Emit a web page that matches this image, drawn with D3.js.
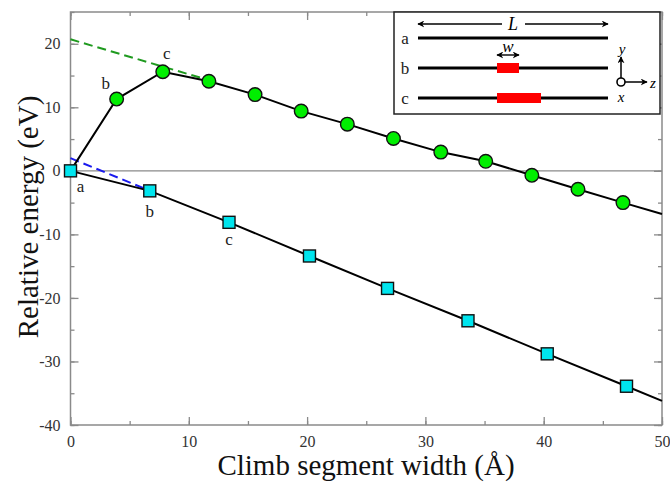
<!DOCTYPE html>
<html>
<head>
<meta charset="utf-8">
<script src="https://cdn.jsdelivr.net/npm/d3@7"></script>
<style>
  html, body { margin: 0; padding: 0; background: #fff; }
  svg { display: block; font-family: "Liberation Serif", "DejaVu Serif", serif; }
</style>
</head>
<body>
<svg id="chart" width="670" height="482"></svg>
<script>
// climb segment width (A) and relative energy (eV)
var circleX = [0, 3.9, 7.8, 11.7, 15.6, 19.5, 23.4, 27.3, 31.3, 35.1, 39.0, 42.9, 46.7];
var circleY = [0, 11.3, 15.6, 14.1, 12.0, 9.4, 7.35, 5.1, 2.95, 1.5, -0.7, -2.9, -5.0];
var squareX = [0, 6.7, 13.4, 20.2, 26.8, 33.6, 40.3, 47.0];
var squareY = [0, -3.15, -8.1, -13.4, -18.5, -23.6, -28.8, -33.9];

// linear fits: [value at x=0, value at x=50]
var circleFit = [20.7, -6.8];
var squareFit = [2.0, -36.2];

var circleLabels = [["b", 1], ["c", 2]];
var squareLabels = [["a", 0], ["b", 1], ["c", 2]];

var xTicks = [0, 10, 20, 30, 40, 50];
var yTicks = [-40, -30, -20, -10, 0, 10, 20];

var insetRows = ["a", "b", "c"];
var insetSeg = [0, 1, 2]; // climb segment length in units of w

(function () {
  var pL = 70.5, pR = 662, pT = 12, pB = 425;

  var svg = d3.select("#chart");
  var x = d3.scaleLinear().domain([0, 50]).range([pL, pR]);
  var y = d3.scaleLinear().domain([-40, 25]).range([pB, pT]);

  var frameColor = "#8a8a8a";
  var plain = function (d) { return String(d); }; // keep ascii hyphen minus

  // zero line
  svg.append("line")
    .attr("x1", x(0)).attr("x2", x(50))
    .attr("y1", y(0)).attr("y2", y(0))
    .attr("stroke", frameColor).attr("stroke-width", 1.3);

  // axes with inward ticks on all four sides
  function styleAxis(g) {
    g.select(".domain").remove();
    g.selectAll(".tick line").attr("stroke", frameColor).attr("stroke-width", 1.3);
    g.selectAll("text").attr("fill", "#333").style("font-size", "16px")
      .style("font-family", "'Liberation Serif', serif");
  }
  var xMinor = d3.range(0, 51, 5);
  var yMinor = d3.range(-40, 26, 5);

  svg.append("g").attr("transform", "translate(0," + pB + ")")
    .call(d3.axisBottom(x).tickValues(xMinor).tickSize(-4).tickFormat(""))
    .call(styleAxis);
  svg.append("g").attr("transform", "translate(0," + pB + ")")
    .call(d3.axisBottom(x).tickValues(xTicks).tickSize(-8).tickPadding(11).tickFormat(plain))
    .call(styleAxis);
  svg.append("g").attr("transform", "translate(0," + pT + ")")
    .call(d3.axisTop(x).tickValues(xMinor).tickSize(-4).tickFormat(""))
    .call(styleAxis);
  svg.append("g").attr("transform", "translate(0," + pT + ")")
    .call(d3.axisTop(x).tickValues(xTicks).tickSize(-8).tickFormat(""))
    .call(styleAxis);

  svg.append("g").attr("transform", "translate(" + pL + ",0)")
    .call(d3.axisLeft(y).tickValues(yMinor).tickSize(-4).tickFormat(""))
    .call(styleAxis);
  svg.append("g").attr("transform", "translate(" + pL + ",0)")
    .call(d3.axisLeft(y).tickValues(yTicks).tickSize(-8).tickPadding(10).tickFormat(plain))
    .call(styleAxis);
  svg.append("g").attr("transform", "translate(" + pR + ",0)")
    .call(d3.axisRight(y).tickValues(yMinor).tickSize(-4).tickFormat(""))
    .call(styleAxis);
  svg.append("g").attr("transform", "translate(" + pR + ",0)")
    .call(d3.axisRight(y).tickValues(yTicks).tickSize(-8).tickFormat(""))
    .call(styleAxis);

  // frame
  svg.append("rect")
    .attr("x", pL).attr("y", pT)
    .attr("width", pR - pL).attr("height", pB - pT)
    .attr("fill", "none").attr("stroke", frameColor).attr("stroke-width", 1.5);

  // axis titles
  svg.append("text")
    .attr("x", 366).attr("y", 475)
    .attr("text-anchor", "middle")
    .style("font-size", "29px").attr("fill", "#111")
    .text("Climb segment width (\u00c5)");
  svg.append("text")
    .attr("transform", "translate(38," + 217 + ") rotate(-90)")
    .attr("text-anchor", "middle")
    .style("font-size", "29px").attr("fill", "#111")
    .text("Relative energy (eV)");

  var line = d3.line().x(function (d) { return x(d[0]); }).y(function (d) { return y(d[1]); });

  function fitAt(fit, xv) { return fit[0] + (fit[1] - fit[0]) * xv / 50; }

  var circles = circleX.map(function (v, i) { return [v, circleY[i]]; });
  var squares = squareX.map(function (v, i) { return [v, squareY[i]]; });

  // dashed fit extrapolations back to x = 0
  var cEnd = circleX[3], sEnd = squareX[1];
  svg.append("path")
    .attr("d", line([[0, fitAt(circleFit, 0)], [cEnd, fitAt(circleFit, cEnd)]]))
    .attr("fill", "none").attr("stroke", "#1f9a1f").attr("stroke-width", 2)
    .attr("stroke-dasharray", "9,5");
  svg.append("path")
    .attr("d", line([[0, fitAt(squareFit, 0)], [sEnd, fitAt(squareFit, sEnd)]]))
    .attr("fill", "none").attr("stroke", "#1a1aee").attr("stroke-width", 2)
    .attr("stroke-dasharray", "9,5");

  // data lines, continued along the fit to the right edge
  svg.append("path")
    .attr("d", line(circles.concat([[50, fitAt(circleFit, 50)]])))
    .attr("fill", "none").attr("stroke", "#000").attr("stroke-width", 2);
  svg.append("path")
    .attr("d", line(squares.concat([[50, fitAt(squareFit, 50)]])))
    .attr("fill", "none").attr("stroke", "#000").attr("stroke-width", 2);

  // markers
  svg.append("g").selectAll("circle")
    .data(circles.slice(1))
    .enter().append("circle")
    .attr("cx", function (d) { return x(d[0]); })
    .attr("cy", function (d) { return y(d[1]); })
    .attr("r", 6.8)
    .attr("fill", "#00ee00").attr("stroke", "#111").attr("stroke-width", 1.4);

  var sq = 12;
  svg.append("g").selectAll("rect")
    .data(squares)
    .enter().append("rect")
    .attr("x", function (d) { return x(d[0]) - sq / 2; })
    .attr("y", function (d) { return y(d[1]) - sq / 2; })
    .attr("width", sq).attr("height", sq)
    .attr("fill", "#00e5ee").attr("stroke", "#111").attr("stroke-width", 1.4);

  // point letters
  var letterOffC = [[-11, -16], [4, -18]];
  circleLabels.forEach(function (l, i) {
    var p = circles[l[1]];
    svg.append("text")
      .attr("x", x(p[0]) + letterOffC[i][0]).attr("y", y(p[1]) + letterOffC[i][1])
      .attr("text-anchor", "middle").attr("dominant-baseline", "central")
      .style("font-size", "17px").attr("fill", "#222").text(l[0]);
  });
  var letterOffS = [[10, 16], [0, 21], [0, 17]];
  squareLabels.forEach(function (l, i) {
    var p = squares[l[1]];
    svg.append("text")
      .attr("x", x(p[0]) + letterOffS[i][0]).attr("y", y(p[1]) + letterOffS[i][1])
      .attr("text-anchor", "middle").attr("dominant-baseline", "central")
      .style("font-size", "17px").attr("fill", "#222").text(l[0]);
  });

  // inset sketch: dislocation lines a, b, c with climb segments of width w
  var inset = svg.append("g");
  inset.append("rect")
    .attr("x", 394).attr("y", 12).attr("width", 266).attr("height", 102)
    .attr("fill", "#fff").attr("stroke", "#222").attr("stroke-width", 1.5);

  var defs = svg.append("defs");
  defs.append("marker").attr("id", "ah")
    .attr("viewBox", "0 0 10 10").attr("refX", 9).attr("refY", 5)
    .attr("markerWidth", 7).attr("markerHeight", 7).attr("orient", "auto-start-reverse")
    .attr("markerUnits", "userSpaceOnUse")
    .append("path").attr("d", "M0,0 L10,5 L0,10 L3,5 Z").attr("fill", "#000");

  var rowY = d3.scalePoint().domain(insetRows).range([38, 98]);
  var lx0 = 418, lx1 = 608, segX = 497, segW = 22;

  inset.append("line")
    .attr("x1", lx0).attr("x2", 502).attr("y1", 24).attr("y2", 24)
    .attr("stroke", "#000").attr("stroke-width", 1.5).attr("marker-start", "url(#ah)");
  inset.append("line")
    .attr("x1", 525).attr("x2", lx1).attr("y1", 24).attr("y2", 24)
    .attr("stroke", "#000").attr("stroke-width", 1.5).attr("marker-end", "url(#ah)");
  inset.append("text").attr("x", 513).attr("y", 24)
    .attr("text-anchor", "middle").attr("dominant-baseline", "central")
    .style("font-size", "18px").style("font-style", "italic").text("L");

  insetRows.forEach(function (r, i) {
    var yy = rowY(r);
    inset.append("text").attr("x", 405).attr("y", yy)
      .attr("text-anchor", "middle").attr("dominant-baseline", "central")
      .style("font-size", "17px").attr("fill", "#222").text(r);
    inset.append("line").attr("x1", lx0).attr("x2", lx1).attr("y1", yy).attr("y2", yy)
      .attr("stroke", "#000").attr("stroke-width", 3);
    if (insetSeg[i] > 0) {
      inset.append("rect").attr("x", segX).attr("y", yy - 5)
        .attr("width", segW * insetSeg[i]).attr("height", 10).attr("fill", "#f00");
    }
  });
  inset.append("line")
    .attr("x1", segX).attr("x2", segX + segW).attr("y1", 55).attr("y2", 55)
    .attr("stroke", "#000").attr("stroke-width", 1.4)
    .attr("marker-start", "url(#ah)").attr("marker-end", "url(#ah)");
  inset.append("text").attr("x", segX + segW / 2).attr("y", 46)
    .attr("text-anchor", "middle").attr("dominant-baseline", "central")
    .style("font-size", "17px").style("font-style", "italic").text("w");

  // coordinate axes glyph
  var ox = 621, oy = 82;
  inset.append("line").attr("x1", ox).attr("x2", ox).attr("y1", oy - 4).attr("y2", 57)
    .attr("stroke", "#000").attr("stroke-width", 1.5).attr("marker-end", "url(#ah)");
  inset.append("line").attr("x1", ox + 4).attr("x2", 647).attr("y1", oy).attr("y2", oy)
    .attr("stroke", "#000").attr("stroke-width", 1.5).attr("marker-end", "url(#ah)");
  inset.append("circle").attr("cx", ox).attr("cy", oy).attr("r", 4)
    .attr("fill", "#fff").attr("stroke", "#000").attr("stroke-width", 1.6);
  [["y", ox + 1, 49], ["z", 653, oy + 1], ["x", ox, 97]].forEach(function (t) {
    inset.append("text").attr("x", t[1]).attr("y", t[2])
      .attr("text-anchor", "middle").attr("dominant-baseline", "central")
      .style("font-size", "15px").style("font-style", "italic").text(t[0]);
  });
})();
</script>
</body>
</html>
